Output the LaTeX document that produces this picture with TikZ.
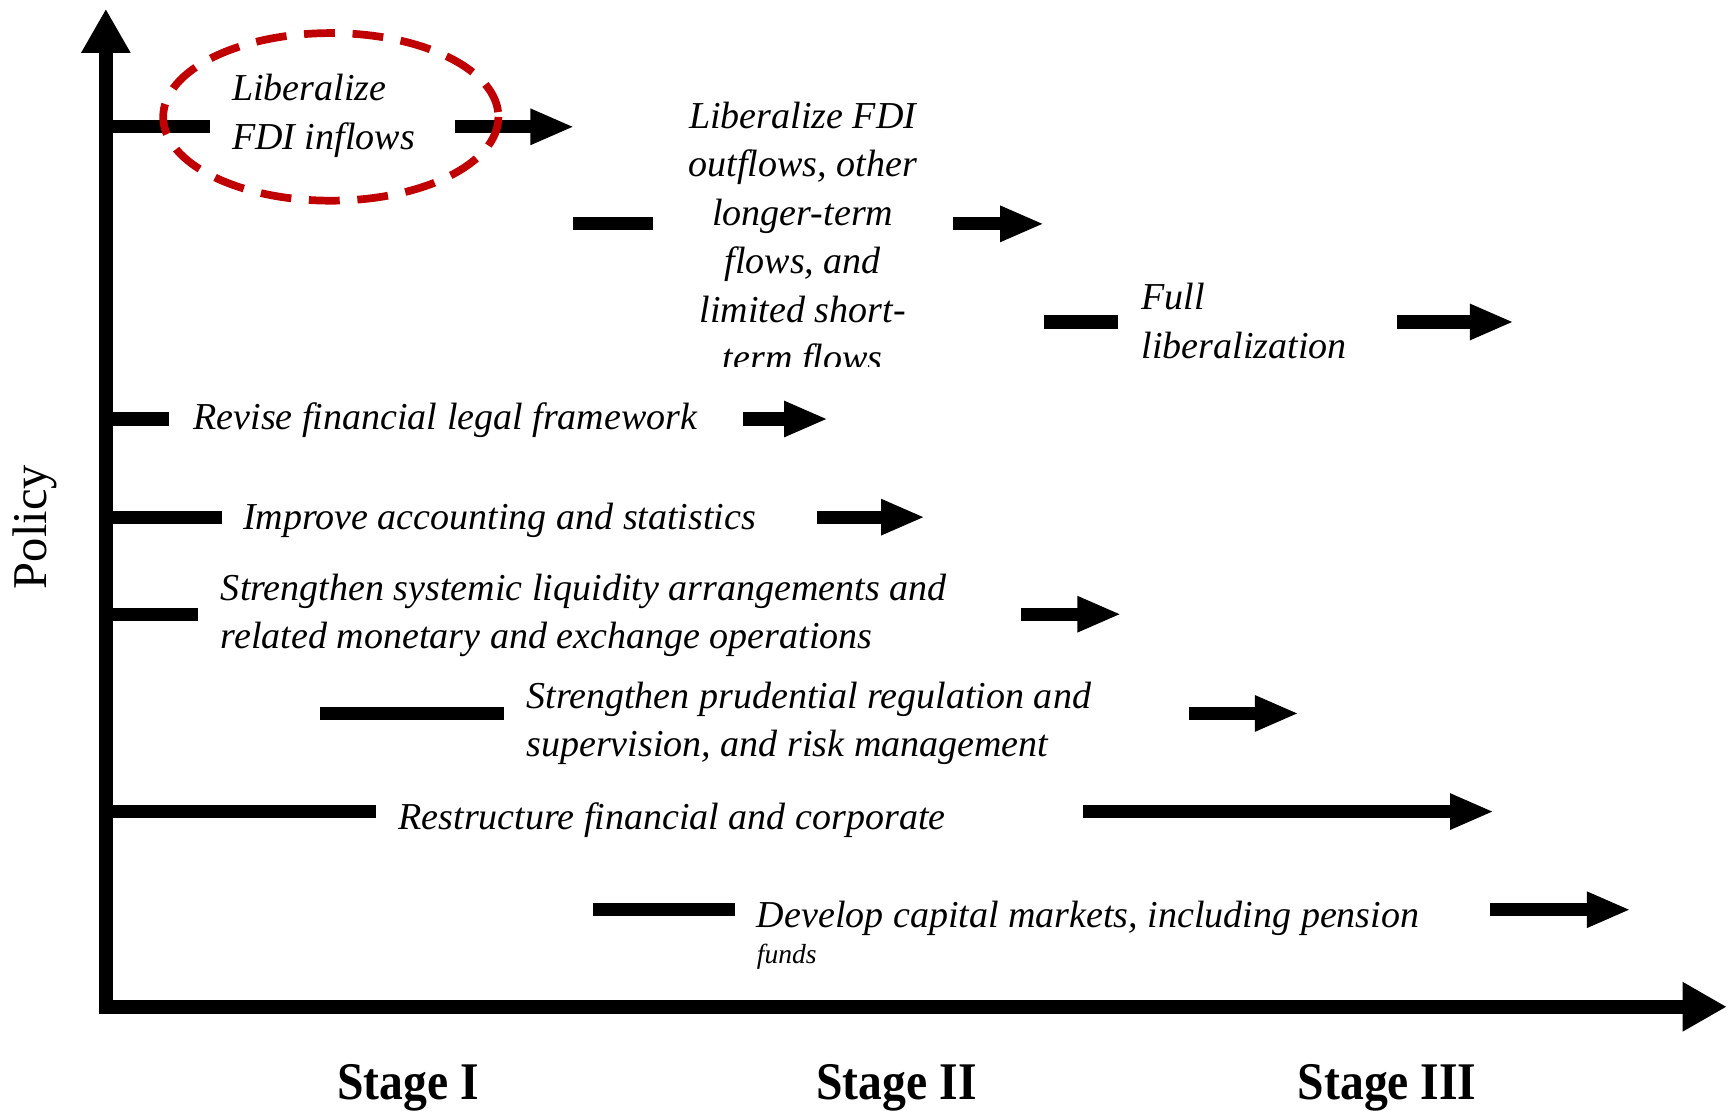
\documentclass[tikz,border=0pt]{standalone}
\usepackage{fontspec}
\setmainfont{Liberation Serif}
\usetikzlibrary{arrows.meta}
\begin{document}
\begin{tikzpicture}[x=0.5pt,y=-0.5pt,
  bar/.style={line width=6pt},
  arr/.style={line width=6pt,-{Triangle[length=20pt,width=15pt]}},
  axis/.style={line width=6.5pt,-{Triangle[length=20pt,width=21pt]}},
  lbl/.style={font=\fontsize{17.25}{22}\selectfont\itshape,inner sep=0pt,anchor=west,align=left},
  stage/.style={font=\fontsize{24}{28}\selectfont\bfseries,inner sep=0pt,anchor=base},
]
\useasboundingbox (0,0) rectangle (1568,1007);
% axes
\coordinate (O) at (96,913);
\coordinate (ytip) at (96,8);
\coordinate (xtip) at (1566,913);
\draw[axis] (96,919) -- (ytip);
\draw[axis] (90,913) -- (xtip);
\node[rotate=90,font=\fontsize{22}{26}\selectfont,inner sep=0pt] (policy) at (32,478) {Policy};
% row 1
\coordinate (r1a) at (96,115); \coordinate (r1b) at (190,115);
\coordinate (r1c) at (413,115); \coordinate (r1d) at (521,115);
\draw[bar] (r1a) -- (r1b);
\draw[arr] (r1c) -- (r1d);
\node[lbl] (t1) at (210,105) {Liberalize\\FDI inflows};
\draw[draw={rgb,255:red,192;green,0;blue,0},line width=3.5pt,dash pattern=on 14pt off 8pt] (300,106) ellipse [x radius=152, y radius=76];
% row 2
\coordinate (r2a) at (520,203); \coordinate (r2b) at (592,203);
\coordinate (r2c) at (864,203); \coordinate (r2d) at (947,203);
\draw[bar] (r2a) -- (r2b);
\draw[arr] (r2c) -- (r2d);
\begin{scope}
\clip (600,70) rectangle (860,332);
\node[lbl,anchor=center,align=center] (t2) at (728,218) {Liberalize FDI\\outflows, other\\longer-term\\flows, and\\limited short-\\term flows};
\end{scope}
% row 3
\coordinate (r3a) at (947,292); \coordinate (r3b) at (1014,292);
\coordinate (r3c) at (1267,292); \coordinate (r3d) at (1373,292);
\draw[bar] (r3a) -- (r3b);
\draw[arr] (r3c) -- (r3d);
\node[lbl] (t3) at (1035,291) {Full\\liberalization};
% row 4
\coordinate (r4a) at (96,380); \coordinate (r4b) at (153,380);
\coordinate (r4c) at (674,380); \coordinate (r4d) at (751,380);
\draw[bar] (r4a) -- (r4b);
\draw[arr] (r4c) -- (r4d);
\node[lbl] (t4) at (175,381) {Revise financial legal framework};
% row 5
\coordinate (r5a) at (96,469); \coordinate (r5b) at (201,469);
\coordinate (r5c) at (741,469); \coordinate (r5d) at (839,469);
\draw[bar] (r5a) -- (r5b);
\draw[arr] (r5c) -- (r5d);
\node[lbl] (t5) at (220,472) {Improve accounting and statistics};
% row 6
\coordinate (r6a) at (96,557); \coordinate (r6b) at (180,557);
\coordinate (r6c) at (926,557); \coordinate (r6d) at (1017,557);
\draw[bar] (r6a) -- (r6b);
\draw[arr] (r6c) -- (r6d);
\node[lbl] (t6) at (200,558) {Strengthen systemic liquidity arrangements and\\related monetary and exchange operations};
% row 7
\coordinate (r7a) at (290,647); \coordinate (r7b) at (457,647);
\coordinate (r7c) at (1078,647); \coordinate (r7d) at (1178,647);
\draw[bar] (r7a) -- (r7b);
\draw[arr] (r7c) -- (r7d);
\node[lbl] (t7) at (477,656) {Strengthen prudential regulation and\\supervision, and risk management};
% row 8
\coordinate (r8a) at (96,736); \coordinate (r8b) at (341,736);
\coordinate (r8c) at (982,736); \coordinate (r8d) at (1355,736);
\draw[bar] (r8a) -- (r8b);
\draw[arr] (r8c) -- (r8d);
\node[lbl] (t8) at (361,744) {Restructure financial and corporate};
% row 9
\coordinate (r9a) at (538,825); \coordinate (r9b) at (667,825);
\coordinate (r9c) at (1351,825); \coordinate (r9d) at (1479,825);
\draw[bar] (r9a) -- (r9b);
\draw[arr] (r9c) -- (r9d);
\node[lbl] (t9) at (686,833) {Develop capital markets, including pension};
\node[lbl,font=\fontsize{12.5}{14}\selectfont\itshape] (t9b) at (686,868) {funds};
% stages
\node[stage] (s1) at (370,997) {\scalebox{0.9}[1]{Stage I}};
\node[stage] (s2) at (813,997) {\scalebox{0.9}[1]{Stage II}};
\node[stage] (s3) at (1258,997) {\scalebox{0.9}[1]{Stage III}};
\end{tikzpicture}
\end{document}
